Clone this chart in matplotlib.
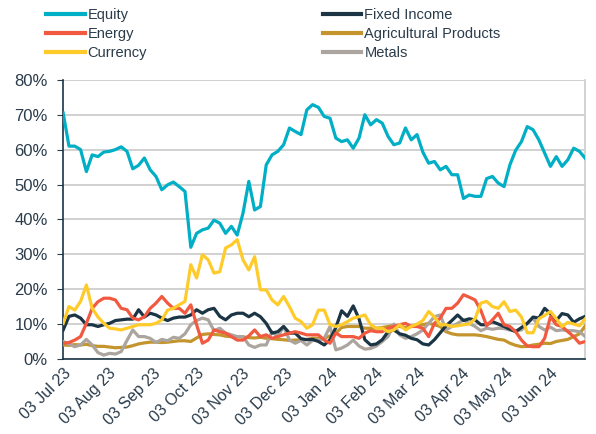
import numpy as np
import pandas as pd
import matplotlib
matplotlib.use("Agg")
import matplotlib.pyplot as plt
import matplotlib.dates as mdates

# sampled every 4 days from 03 Jul 23
dates = pd.date_range("2023-07-03", periods=91, freq="4D")

equity = [70.5, 61.0, 61.0, 60.0, 53.7, 58.5, 58.0, 59.3, 59.5, 60.0,
          60.8, 59.5, 54.5, 55.5, 57.6, 54.2, 52.3, 48.5, 49.9, 50.7,
          49.4, 48.0, 32.0, 36.0, 37.0, 37.5, 39.8, 38.9, 36.0, 38.0,
          35.5, 41.8, 50.9, 42.7, 43.7, 55.6, 58.5, 59.5, 61.4, 66.2,
          65.2, 64.3, 71.4, 72.9, 72.1, 69.5, 69.0, 63.3, 62.3, 62.8,
          60.4, 63.3, 70.0, 67.1, 68.6, 67.6, 63.8, 61.4, 61.9, 66.2,
          62.8, 64.3, 59.3, 56.1, 56.6, 54.2, 55.2, 52.8, 52.8, 46.0,
          47.0, 46.6, 46.6, 51.7, 52.3, 50.4, 49.4, 55.6, 59.8, 62.3,
          66.6, 65.7, 62.8, 59.0, 55.2, 58.0, 55.2, 57.1, 60.4, 59.5,
          57.5]

fixed_income = [8.3, 12.2, 12.6, 11.7, 9.8, 9.8, 9.3, 9.8, 10.2, 11.0,
                11.2, 11.4, 11.4, 14.1, 12.0, 13.1, 12.6, 11.7, 11.0, 11.7,
                12.0, 12.0, 12.6, 14.1, 13.1, 14.1, 14.5, 12.2, 11.2, 12.6,
                13.1, 13.1, 12.1, 13.1, 12.1, 10.2, 7.4, 7.8, 9.3, 7.4,
                7.4, 5.8, 5.5, 5.6, 5.0, 4.0, 5.5, 9.0, 13.8, 12.2,
                15.2, 11.5, 5.5, 4.0, 4.3, 5.5, 7.8, 8.3, 7.2, 6.8,
                5.9, 5.5, 4.3, 4.0, 5.5, 7.5, 9.5, 11.0, 12.6, 11.0,
                11.5, 11.2, 9.8, 9.8, 10.7, 10.0, 9.3, 8.5, 7.8, 9.0,
                10.2, 12.0, 11.7, 14.5, 13.0, 11.0, 13.0, 12.6, 10.5, 11.5,
                12.2]

energy = [4.5, 4.7, 5.4, 6.4, 10.2, 14.5, 16.4, 17.4, 17.4, 16.9,
          14.5, 14.1, 11.7, 11.2, 12.1, 14.5, 16.0, 17.9, 16.0, 14.5,
          14.5, 13.1, 15.5, 9.8, 4.5, 5.4, 8.3, 7.8, 7.4, 6.4,
          5.4, 5.4, 6.6, 8.3, 6.4, 6.9, 5.9, 6.4, 6.9, 7.4,
          7.8, 7.4, 6.9, 6.9, 6.9, 5.4, 4.5, 7.4, 6.4, 6.4,
          6.4, 5.9, 7.4, 8.1, 7.8, 7.8, 8.8, 9.3, 9.8, 10.2,
          9.3, 9.3, 8.8, 6.4, 10.2, 11.7, 14.5, 14.5, 16.0, 18.4,
          17.7, 16.9, 13.9, 9.5, 11.2, 13.1, 9.8, 9.3, 7.8, 5.4,
          3.7, 3.5, 3.5, 5.9, 12.1, 9.8, 9.3, 7.8, 6.4, 4.5,
          5.0]

agricultural = [4.0, 3.9, 4.1, 4.0, 4.2, 3.8, 3.6, 3.6, 3.4, 3.2,
                3.3, 3.4, 3.8, 4.3, 4.6, 4.8, 4.8, 4.7, 4.8, 5.0,
                5.2, 5.2, 5.0, 6.0, 7.0, 7.2, 7.0, 6.9, 6.5, 6.4,
                6.4, 6.3, 6.1, 6.0, 6.2, 5.9, 5.8, 5.6, 5.5, 5.3,
                5.4, 5.4, 5.6, 5.9, 5.9, 5.9, 6.6, 7.4, 9.0, 9.3,
                9.3, 9.3, 8.8, 8.8, 8.8, 9.0, 9.3, 9.6, 9.3, 9.0,
                9.3, 9.8, 9.8, 10.2, 9.8, 9.3, 7.8, 7.2, 6.9, 6.9,
                6.9, 6.9, 6.7, 6.4, 6.0, 5.6, 5.4, 4.5, 3.9, 3.5,
                3.6, 4.0, 4.2, 4.5, 4.4, 5.0, 5.3, 5.6, 6.4, 7.2,
                9.5]

currency = [10.2, 15.0, 14.0, 16.5, 21.2, 14.5, 12.0, 10.2, 8.8, 8.6,
            8.3, 8.8, 9.3, 9.8, 9.8, 9.8, 10.2, 11.2, 14.0, 14.5,
            15.5, 16.5, 27.0, 23.2, 29.9, 28.4, 24.6, 25.0, 31.8, 32.7,
            34.2, 28.4, 25.5, 29.3, 19.8, 19.8, 16.9, 15.5, 17.9, 15.0,
            11.7, 10.7, 8.8, 9.8, 14.0, 14.0, 9.8, 9.3, 9.8, 10.7,
            11.7, 12.1, 12.6, 9.8, 8.8, 8.8, 7.8, 8.3, 9.8, 8.3,
            9.3, 10.0, 11.0, 13.6, 12.0, 9.8, 9.8, 9.3, 9.5, 9.8,
            10.0, 11.5, 16.0, 16.5, 15.0, 14.5, 16.4, 13.6, 14.0, 12.0,
            7.5, 7.5, 11.5, 12.5, 13.6, 11.5, 9.3, 10.5, 10.0, 9.5,
            11.5]

metals = [5.0, 4.3, 3.5, 4.0, 5.6, 4.0, 1.8, 1.1, 1.6, 1.4,
          2.1, 5.3, 8.3, 6.4, 6.4, 5.9, 4.7, 5.6, 5.2, 6.2,
          5.9, 7.2, 9.8, 11.0, 11.7, 11.2, 8.1, 8.8, 7.4, 6.9,
          6.4, 6.4, 4.0, 3.3, 4.0, 4.0, 7.8, 6.4, 9.3, 5.4,
          4.5, 5.3, 4.0, 5.3, 5.4, 5.9, 9.3, 2.6, 3.1, 4.0,
          5.4, 3.7, 2.8, 3.0, 3.7, 5.0, 6.4, 10.0, 6.9, 5.9,
          6.4, 7.2, 8.3, 10.2, 12.1, 12.6, 8.3, 9.3, 10.2, 11.2,
          10.2, 9.3, 8.1, 8.8, 8.5, 8.8, 8.7, 8.3, 8.1, 8.3,
          10.2, 11.7, 9.3, 8.3, 9.1, 8.1, 8.3, 8.1, 8.1, 7.8,
          6.4]

series = [
    ("Equity", equity, "#00afc6"),
    ("Energy", energy, "#f15a40"),
    ("Currency", currency, "#ffcb2b"),
    ("Fixed Income", fixed_income, "#1b3545"),
    ("Agricultural Products", agricultural, "#c4952c"),
    ("Metals", metals, "#aca59f"),
]
draw_order = ["Agricultural Products", "Metals", "Fixed Income", "Energy", "Currency", "Equity"]

text_col = "#2a3b4a"
plt.rcParams["font.family"] = ["Liberation Sans", "DejaVu Sans"]

fig = plt.figure(figsize=(5.96, 4.34), dpi=100)
ax = fig.add_axes([0.106, 0.173, 0.876, 0.643])

lines = {}
for name, vals, col in series:
    z = 3 + draw_order.index(name)
    ln, = ax.plot(dates, np.array(vals) / 100, color=col, lw=2.3, label=name,
                  zorder=z, solid_joinstyle="round")
    lines[name] = ln

ax.set_ylim(0, 0.8)
ax.set_xlim(dates[0], dates[-1])
ax.set_yticks(np.arange(0, 0.81, 0.1))
ax.yaxis.set_major_formatter(matplotlib.ticker.PercentFormatter(1.0, decimals=0))
ax.grid(axis="y", color="#c9c9c9", lw=1.2)
ax.set_axisbelow(True)

ticks = pd.date_range("2023-07-01", "2024-06-01", freq="MS") + pd.Timedelta(days=2)
ax.set_xticks(ticks)
ax.xaxis.set_major_formatter(mdates.DateFormatter("%d %b %y"))
plt.setp(ax.get_xticklabels(), rotation=45, ha="right", rotation_mode="anchor")
ax.tick_params(axis="x", colors=text_col, labelsize=11.5, length=0, pad=5)
ax.tick_params(axis="y", colors=text_col, labelsize=12, length=4, pad=7)

for s in ["left", "bottom"]:
    ax.spines[s].set_color("#1b3545")
    ax.spines[s].set_linewidth(1.2)
ax.spines["top"].set_visible(False)
ax.spines["right"].set_color("#cccccc")
ax.spines["right"].set_linewidth(1.2)

leg = fig.legend(handles=[l for l in lines.values()], loc="upper left",
                 bbox_to_anchor=(0.055, 1.012), ncol=2, frameon=False,
                 fontsize=10.5, handlelength=2.65, handletextpad=0.2,
                 columnspacing=12.05, labelspacing=0.36, labelcolor=text_col)
for h in leg.legend_handles:
    h.set_linewidth(3)

fig.savefig("out.png", dpi=100)
